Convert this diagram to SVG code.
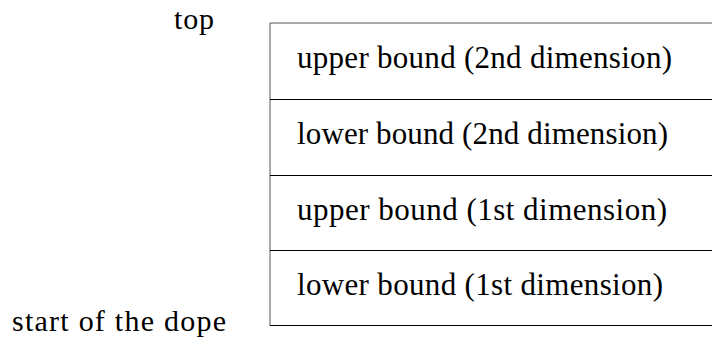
<svg xmlns="http://www.w3.org/2000/svg" width="712" height="338" viewBox="0 0 712 338">
  <style>
    .ln { stroke: #000; stroke-width: 1; fill: none; }
    .t { font-family: "Liberation Serif", "DejaVu Serif", serif; font-size: 31px; fill: #000; }
  </style>
  <rect width="712" height="338" fill="#fff"/>
  <g id="frame">
    <line class="ln" x1="270" y1="23" x2="270" y2="326" style="stroke:#555"/>
    <line class="ln" x1="270" y1="23" x2="712" y2="23" style="stroke:#555"/>
  </g>
  <g id="row-upper-2nd">
    <text class="t" x="297" y="68" textLength="375" lengthAdjust="spacing">upper bound (2nd dimension)</text>
    <line class="ln" x1="270" y1="99.5" x2="712" y2="99.5"/>
  </g>
  <g id="row-lower-2nd">
    <text class="t" x="297" y="144" textLength="371" lengthAdjust="spacing">lower bound (2nd dimension)</text>
    <line class="ln" x1="270" y1="175.5" x2="712" y2="175.5"/>
  </g>
  <g id="row-upper-1st">
    <text class="t" x="297" y="219.5" textLength="370" lengthAdjust="spacing">upper bound (1st dimension)</text>
    <line class="ln" x1="270" y1="250.5" x2="712" y2="250.5"/>
  </g>
  <g id="row-lower-1st">
    <text class="t" x="297" y="295" textLength="366" lengthAdjust="spacing">lower bound (1st dimension)</text>
    <line class="ln" x1="270" y1="325.5" x2="712" y2="325.5"/>
  </g>
  <g id="label-top">
    <text class="t" x="174" y="29" style="font-size:30px" textLength="40" lengthAdjust="spacing">top</text>
  </g>
  <g id="label-start">
    <text class="t" x="12" y="331" style="font-size:30px" textLength="214" lengthAdjust="spacing">start of the dope</text>
  </g>
</svg>
